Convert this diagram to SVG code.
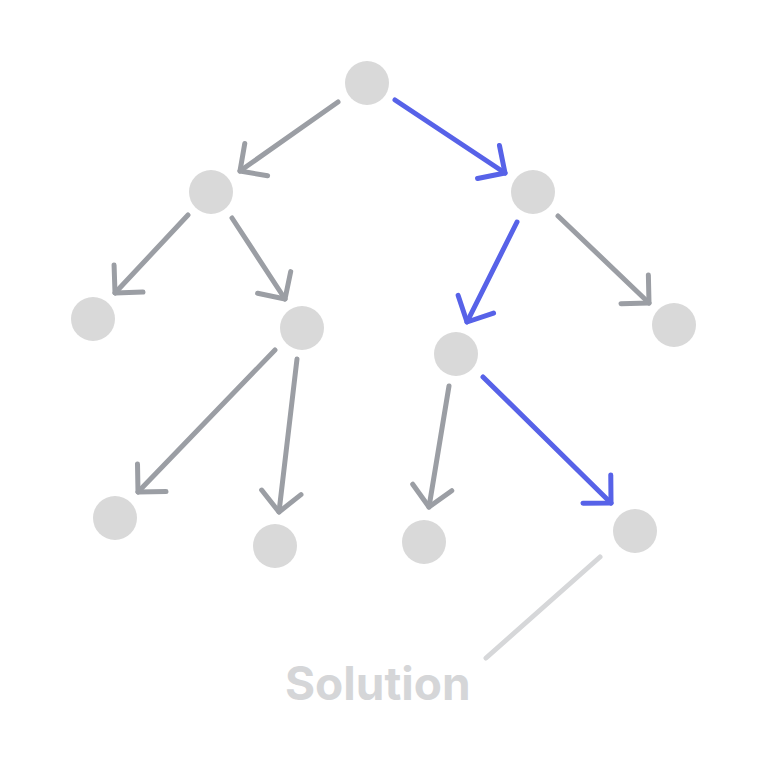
<svg xmlns="http://www.w3.org/2000/svg" width="768" height="768" viewBox="0 0 768 768">
  <style>
    .node { fill: #d9d9d9; }
    .edge { fill: none; stroke-width: 5; stroke-linecap: round; stroke-linejoin: round; }
    .gray { stroke: #9b9ea4; marker-end: url(#ahGray); }
    .blue { stroke: #5762e8; marker-end: url(#ahBlue); }
    .pointer { fill: none; stroke: #d6d7d9; stroke-width: 5; stroke-linecap: round; }
    .label { font-family: Inter, "Liberation Sans", sans-serif; font-weight: 700; font-size: 46px; fill: #d5d6d8; }
  </style>
  <defs>
    <marker id="ahGray" markerUnits="userSpaceOnUse" viewBox="-30 -30 60 60" markerWidth="60" markerHeight="60" refX="0" refY="0" orient="auto" overflow="visible">
      <path d="M -19.8 -19.8 L 0 0 L -19.8 19.8" fill="none" stroke="#9b9ea4" stroke-width="5" stroke-linecap="round" stroke-linejoin="round"/>
    </marker>
    <marker id="ahBlue" markerUnits="userSpaceOnUse" viewBox="-30 -30 60 60" markerWidth="60" markerHeight="60" refX="0" refY="0" orient="auto" overflow="visible">
      <path d="M -19.8 -19.8 L 0 0 L -19.8 19.8" fill="none" stroke="#5762e8" stroke-width="5" stroke-linecap="round" stroke-linejoin="round"/>
    </marker>
  </defs>
  <rect width="768" height="768" fill="#ffffff"/>
  <g id="connectors">
    <line class="edge gray" x1="338" y1="102" x2="240" y2="171"/>
    <line class="edge blue" x1="395" y1="100" x2="505" y2="173"/>
    <line class="edge gray" x1="188" y1="215" x2="115" y2="293"/>
    <line class="edge gray" x1="232" y1="218" x2="285" y2="299"/>
    <line class="edge blue" x1="517" y1="222" x2="467" y2="322"/>
    <line class="edge gray" x1="558" y1="216" x2="649" y2="303"/>
    <line class="edge gray" x1="275" y1="350" x2="138" y2="492"/>
    <line class="edge gray" x1="297" y1="359" x2="279" y2="512"/>
    <line class="edge gray" x1="449" y1="386" x2="429" y2="507"/>
    <line class="edge blue" x1="483" y1="377" x2="611" y2="503"/>
    <line class="pointer" x1="600" y1="557" x2="486" y2="658"/>
  </g>
  <g id="n-root"><circle class="node" cx="367" cy="83" r="22"/></g>
  <g id="n-l"><circle class="node" cx="211" cy="192" r="22"/></g>
  <g id="n-r"><circle class="node" cx="533" cy="192" r="22"/></g>
  <g id="n-ll"><circle class="node" cx="93" cy="319" r="22"/></g>
  <g id="n-lr"><circle class="node" cx="302" cy="328" r="22"/></g>
  <g id="n-rl"><circle class="node" cx="456" cy="354" r="22"/></g>
  <g id="n-rr"><circle class="node" cx="674" cy="325" r="22"/></g>
  <g id="n-lrl"><circle class="node" cx="115" cy="518" r="22"/></g>
  <g id="n-lrr"><circle class="node" cx="275" cy="546" r="22"/></g>
  <g id="n-rll"><circle class="node" cx="424" cy="542" r="22"/></g>
  <g id="n-rlr"><circle class="node" cx="635" cy="531" r="22"/></g>
  <g id="label-solution"><text class="label" x="285" y="700">Solution</text></g>
</svg>
